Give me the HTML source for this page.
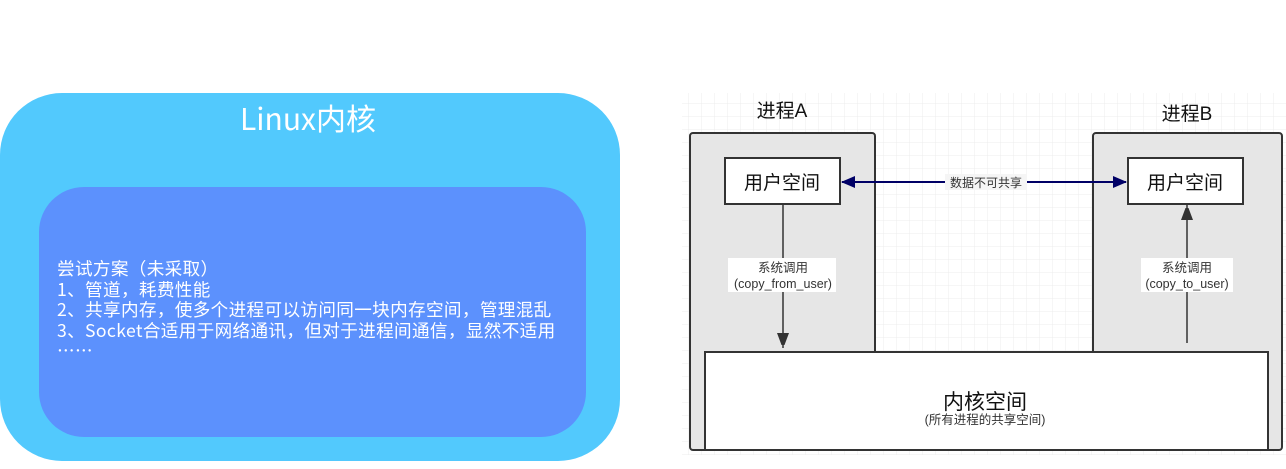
<!DOCTYPE html>
<html><head><meta charset="utf-8"><style>
body{margin:0;width:1286px;height:469px;background:#fff;position:relative;overflow:hidden;font-family:"Liberation Sans","Noto Sans CJK SC",sans-serif}
.a{position:absolute}
</style></head><body>
<div class="a" style="left:0;top:93px;width:620px;height:368px;background:#52c9fd;border-radius:62px"></div>
<div class="a" style="left:0;top:96px;width:616px;text-align:center;color:#fff;font-size:30px;line-height:42px;font-family:'Noto Sans CJK SC',sans-serif">Linux内核</div>
<div class="a" style="left:39px;top:187px;width:547px;height:250px;background:#5c91fd;border-radius:45px"></div>
<div class="a" style="left:57px;top:259px;color:#fff;font-size:17.6px;letter-spacing:0.35px;line-height:20.5px;white-space:pre;font-family:'Noto Sans CJK SC',sans-serif">尝试方案（未采取）
1、管道，耗费性能
2、共享内存，使多个进程可以访问同一块内存空间，管理混乱
3、Socket合适用于网络通讯，但对于进程间通信，显然不适用
……</div>
<svg class="a" style="left:0;top:0" width="1286" height="469">
<defs>
<pattern id="g" width="13" height="13" patternUnits="userSpaceOnUse"><path d="M13 0V13H0" fill="none" stroke="#ececec" stroke-width="1"/></pattern>
<marker id="n" markerWidth="14" markerHeight="12" refX="13" refY="6" orient="auto" markerUnits="userSpaceOnUse"><path d="M0,0L14,6L0,12z" fill="#000066"/></marker>
<marker id="k" markerWidth="12" markerHeight="16" refX="15" refY="6" orient="auto" markerUnits="userSpaceOnUse"><path d="M0,0L16,6L0,12z" fill="#333"/></marker>
</defs>
<rect x="682" y="93" width="604" height="362" fill="url(#g)"/>
<rect x="690" y="133" width="185" height="317" rx="3" fill="#e6e6e6" stroke="#333" stroke-width="2"/>
<rect x="1093" y="133" width="189" height="317" rx="3" fill="#e6e6e6" stroke="#333" stroke-width="2"/>
<rect x="705" y="352" width="563" height="98" fill="#fff" stroke="#333" stroke-width="2"/>
<rect x="725" y="158" width="115" height="46" fill="#fff" stroke="#333" stroke-width="2"/>
<rect x="1128" y="158" width="115" height="46" fill="#fff" stroke="#333" stroke-width="2"/>
<line x1="852" y1="182" x2="1126" y2="182" stroke="#000066" stroke-width="2" marker-end="url(#n)"/>
<line x1="1118" y1="182" x2="842" y2="182" stroke="#000066" stroke-width="2" marker-end="url(#n)"/>
<rect x="945" y="174" width="82" height="16" fill="#f5f5f5"/>
<text x="986" y="187" font-size="12" text-anchor="middle" fill="#333">数据不可共享</text>
<line x1="783" y1="204" x2="783" y2="348" stroke="#333" stroke-width="1.5" marker-end="url(#k)"/>
<line x1="1187" y1="343" x2="1187" y2="205" stroke="#333" stroke-width="1.5" marker-end="url(#k)"/>
<rect x="728" y="258" width="108" height="34" fill="#fff"/>
<rect x="1141" y="258" width="92" height="34" fill="#fff"/>
<g font-size="12.5" fill="#333" text-anchor="middle">
<text x="783" y="272">系统调用</text><text x="783" y="288">(copy_from_user)</text>
<text x="1187" y="272">系统调用</text><text x="1187" y="288">(copy_to_user)</text>
<text x="985" y="424">(所有进程的共享空间)</text>
</g>
<g font-size="19" fill="#111" text-anchor="middle">
<text x="782" y="189">用户空间</text><text x="1185" y="189">用户空间</text>
<text x="985" y="409" font-size="21">内核空间</text>
<text x="782" y="117">进程A</text><text x="1187" y="120">进程B</text>
</g>
</svg>
</body></html>
